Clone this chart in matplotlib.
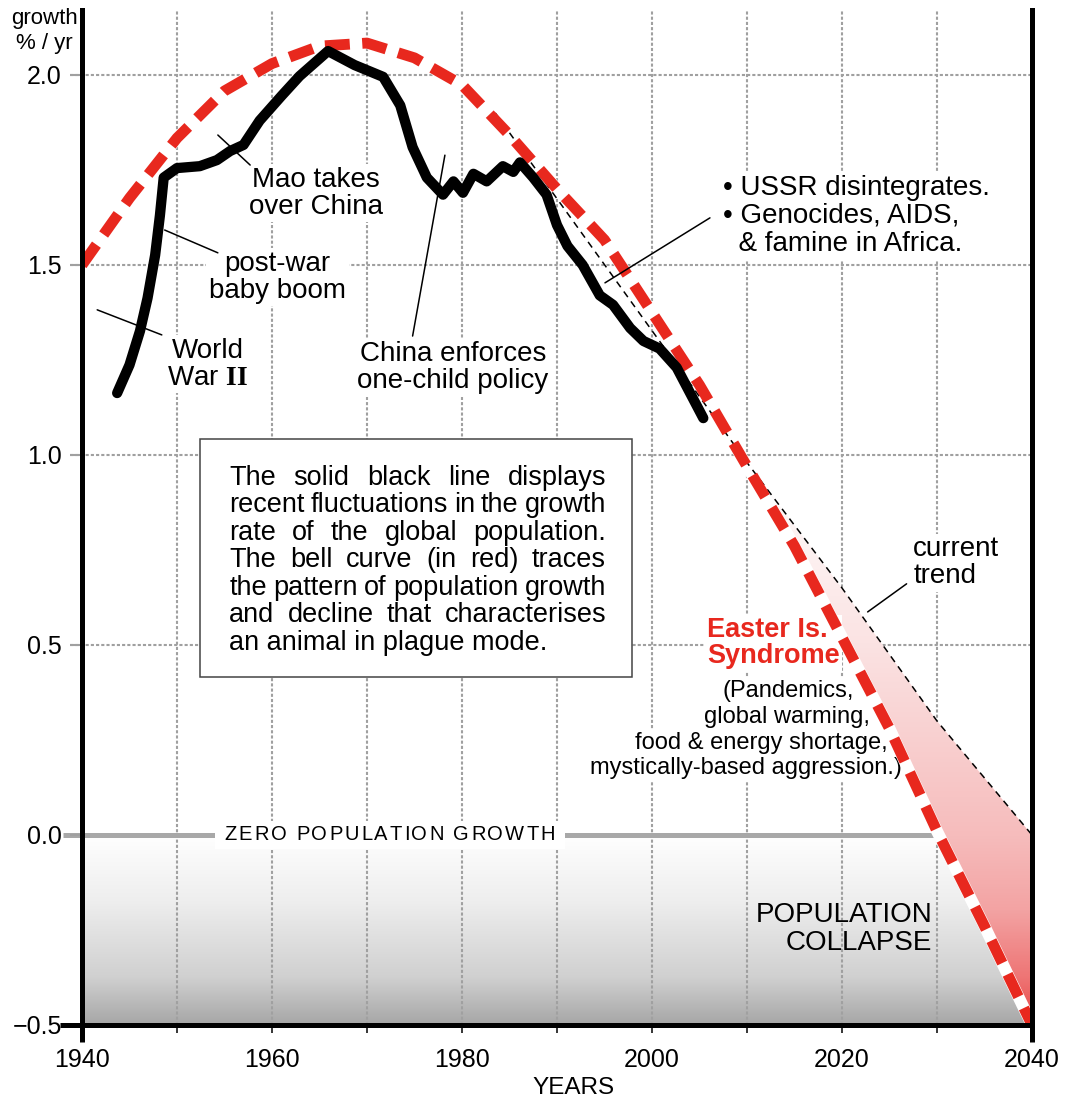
import numpy as np
import matplotlib.pyplot as plt
from matplotlib.colors import LinearSegmentedColormap
from matplotlib.patches import Rectangle, Polygon

plt.rcParams['font.family'] = ['Liberation Sans', 'DejaVu Sans']
plt.rcParams['mathtext.fontset'] = 'custom'
plt.rcParams['mathtext.rm'] = 'Liberation Serif'
plt.rcParams['mathtext.bf'] = 'Liberation Serif:bold'

# world population growth rate (% / yr)
pop_years = [1943.7, 1945.0, 1946.1, 1946.9, 1947.7, 1948.2, 1948.6, 1950.0, 1952.4,
             1954.2, 1955.6, 1957.0, 1958.7, 1961.0, 1962.9, 1965.9, 1968.7, 1971.7,
             1973.5, 1974.8, 1976.3, 1978.0, 1979.1, 1980.1, 1981.2, 1982.6, 1984.3,
             1985.4, 1986.1, 1987.5, 1988.9, 1990.0, 1991.1, 1992.7, 1994.5, 1995.9,
             1997.7, 1999.1, 2000.8, 2002.6, 2005.4]
pop_growth = [1.163, 1.237, 1.326, 1.413, 1.526, 1.63, 1.73, 1.755, 1.76,
              1.776, 1.80, 1.816, 1.88, 1.945, 1.997, 2.063, 2.026, 1.995,
              1.92, 1.81, 1.73, 1.685, 1.72, 1.69, 1.74, 1.72, 1.76,
              1.745, 1.77, 1.73, 1.685, 1.605, 1.55, 1.50, 1.42, 1.395,
              1.334, 1.30, 1.28, 1.23, 1.097]

# bell curve (plague mode)
bell_years = [1940, 1945, 1950, 1955, 1960, 1965, 1970, 1975, 1980, 1985, 1990,
              1995, 2000, 2005, 2010, 2015, 2020, 2025, 2030, 2035, 2040]
bell_growth = [1.50, 1.676, 1.834, 1.958, 2.03, 2.076, 2.084, 2.045, 1.974, 1.842, 1.70,
               1.566, 1.375, 1.184, 0.97, 0.76, 0.52, 0.28, 0.01, -0.24, -0.50]

# current trend
trend_years = [1983.5, 2010, 2020, 2030, 2040]
trend_growth = [1.90, 0.98, 0.65, 0.30, 0.0]

year_ticks = [1940, 1960, 1980, 2000, 2020, 2040]
decade_ticks = [1950, 1970, 1990, 2010, 2030]
grid_years = [1950, 1960, 1970, 1980, 1990, 2000, 2010, 2020, 2030]
growth_ticks = [-0.5, 0.0, 0.5, 1.0, 1.5, 2.0]

box_lines = ['The solid black line displays',
             'recent fluctuations in the growth',
             'rate of the global population.',
             'The bell curve (in red) traces',
             'the pattern of population growth',
             'and decline that characterises',
             'an animal in plague mode.']

RED = '#e8281e'
GRID = '#a0a0a0'
BOX_FS = 19.5

W, H = 1066, 1099
fig = plt.figure(figsize=(W / 100, H / 100), dpi=100)
ax = fig.add_axes([82 / W, 74 / H, 950 / W, 1015 / H])

# grey "collapse" zone
grey = LinearSegmentedColormap.from_list('grey', [(0, '#ffffff'), (0.35, '#eeeeee'),
                                                  (0.75, '#d0d0d0'), (1, '#a6a6a6')])
ax.imshow(np.linspace(0, 1, 256)[:, None], cmap=grey, extent=(1940, 2040, -0.5, 0),
          aspect='auto', zorder=0)

# grid
ax.vlines(grid_years, -0.5, 2.171, color=GRID, lw=1.5, linestyles=[(0, (1.5, 1))], zorder=1)
ax.hlines(growth_ticks[2:], 1938.7, 2040, color=GRID, lw=1.5, linestyles=[(0, (1.5, 1))],
          zorder=1, clip_on=False)
ax.hlines(0, 1938.0, 2040, color='#a8a8a8', lw=3.6, zorder=1.5, clip_on=False)

# pink wedge between bell curve and trend
verts = [(x, y) for x, y in zip(bell_years, bell_growth) if x >= 2005]
verts += [(x, y) for x, y in zip(trend_years, trend_growth) if x >= 2005][::-1]
wedge = Polygon(verts, closed=True, transform=ax.transData)
pink = LinearSegmentedColormap.from_list('pink', [(0, '#ffffff'), (0.33, '#fbe3e3'),
                                                  (0.67, '#f6bcbc'), (0.8, '#f3a3a3'),
                                                  (0.92, '#ee7474'), (1, '#e84444')])
im = ax.imshow(np.linspace(0, 1, 256)[:, None], cmap=pink, extent=(2004, 2040, -0.5, 1.0),
               aspect='auto', zorder=2)
im.set_clip_path(wedge)

# curves
ax.plot(bell_years, bell_growth, color='white', lw=8.6, zorder=4)
ax.plot(trend_years, trend_growth, color='black', lw=1.1, ls=(0, (4.5, 3.5)), zorder=4.5)
ax.plot(bell_years, bell_growth, color=RED, lw=7.8, ls=(0, (2.3, 1.15)),
        dash_capstyle='butt', zorder=5)
ax.plot(pop_years, pop_growth, color='black', lw=7.4, solid_capstyle='round',
        solid_joinstyle='round', zorder=6)

ax.set_xlim(1940, 2040)
ax.set_ylim(-0.5, 2.171)

# axes styling
for side in ['left', 'right', 'bottom']:
    ax.spines[side].set_linewidth(3.6)
    ax.spines[side].set_zorder(10)
ax.spines['top'].set_visible(False)
ax.plot([1940, 1940], [-0.5, -0.545], color='black', lw=3.6, clip_on=False, zorder=10,
        solid_capstyle='butt')
ax.plot([2040, 2040], [-0.5, -0.545], color='black', lw=3.6, clip_on=False, zorder=10,
        solid_capstyle='butt')
ax.plot([1937.7, 1940], [-0.5, -0.5], color='black', lw=3.6, clip_on=False, zorder=10,
        solid_capstyle='butt')

ax.set_xticks(year_ticks)
ax.set_xticks(decade_ticks, minor=True)
ax.set_yticks(growth_ticks)
ax.set_yticklabels([f'{g:.1f}'.replace('-', '\u2212') for g in growth_ticks])
ax.tick_params(axis='x', which='both', direction='out', length=5.8, width=1.1,
               pad=11, labelsize=18)
ax.tick_params(axis='y', direction='out', length=8.6, width=1.5, color=GRID,
               pad=5.8, labelsize=18)

fig.text(44 / W, 1 - 31 / H, 'growth\n% / yr', fontsize=16, ha='center', va='center',
         linespacing=1.2)
fig.text(573 / W, 1 - 1088 / H, 'YEARS', fontsize=17.5, ha='center', va='center')

# labels
wbox = dict(facecolor='white', edgecolor='none', boxstyle='square,pad=0.1')
lbl = dict(fontsize=20, ha='center', va='center', linespacing=1.05, zorder=3, bbox=wbox)
ax.text(1964.6, 1.689, 'Mao takes\nover China', **lbl)
ax.text(1960.6, 1.468, 'post-war\nbaby boom', **lbl)
ax.text(1953.2, 1.239, 'World\nWar $\\mathbf{II}$', **lbl)
ax.text(1979.05, 1.229, 'China enforces\none-child policy', **lbl)
ax.text(2007.47, 1.629, '\u2022 USSR disintegrates.\n\u2022 Genocides, AIDS,\n  & famine in Africa.',
        fontsize=20, ha='left', va='center', linespacing=1.1, zorder=3, bbox=wbox)
ax.text(2027.5, 0.716, 'current\ntrend', fontsize=20, ha='left', va='center',
        linespacing=1.05, zorder=3, bbox=wbox)
ax.text(2005.8, 0.504, 'Easter Is.\nSyndrome', fontsize=19.5, fontweight='bold', color=RED,
        ha='left', ma='left', va='center', linespacing=1.0, zorder=3, bbox=wbox)
for txt, x, y in [('(Pandemics,', 2014.3, 0.379), ('global warming,', 2014.2, 0.311),
                  ('food & energy shortage,', 2011.5, 0.242),
                  ('mystically-based aggression.)', 2009.9, 0.176)]:
    ax.text(x, y, txt, fontsize=17, ha='center', va='center', zorder=3, bbox=wbox)
ax.text(2029.5, -0.247, 'POPULATION\nCOLLAPSE', fontsize=20, ha='right', ma='right',
        va='center', linespacing=1.1, zorder=3)

# leader lines
leaders = [((1954.3, 1.842), (1957.7, 1.763)),
           ((1948.7, 1.592), (1954.3, 1.532)),
           ((1941.6, 1.382), (1948.4, 1.316)),
           ((1978.2, 1.789), (1974.8, 1.313)),
           ((2006.1, 1.624), (1995.05, 1.453)),
           ((2026.8, 0.661), (2022.7, 0.587))]
for a, b in leaders:
    ax.annotate('', xy=b, xytext=a, zorder=7,
                arrowprops=dict(arrowstyle='-', lw=1.1, color='black', shrinkA=0, shrinkB=0))

# explanatory box
ax.add_patch(Rectangle((1952.4, 0.416), 45.5, 0.626, facecolor='white', edgecolor='#444444',
                       lw=1.1, zorder=3))

fig.canvas.draw()
rend = fig.canvas.get_renderer()


def width_px(s, **kw):
    t = ax.text(0, 0, s, **kw)
    w = t.get_window_extent(rend).width
    t.remove()
    return w


inv = ax.transData.inverted()
left = ax.transData.transform((1955.5, 0))[0]
right = ax.transData.transform((1995.16, 0))[0]
for i, line in enumerate(box_lines):
    y = 0.922 - i * 0.0724
    if i == len(box_lines) - 1:
        ax.text(1955.5, y, line, fontsize=BOX_FS, va='baseline', zorder=4)
        continue
    words = line.split()
    ws = [width_px(w, fontsize=BOX_FS) for w in words]
    gap = (right - left - sum(ws)) / (len(words) - 1)
    x = left
    for w, ww in zip(words, ws):
        ax.text(inv.transform((x, 0))[0], y, w, fontsize=BOX_FS, va='baseline', zorder=4)
        x += ww + gap

# letter-spaced "ZERO POPULATION GROWTH"
ax.add_patch(Rectangle((1954.0, -0.037), 36.8, 0.074, facecolor='white', edgecolor='none',
                       zorder=2.5))
zero_txt = 'ZERO POPULATION GROWTH'
sp = width_px('a a', fontsize=14.5) - 2 * width_px('a', fontsize=14.5)
cw = [width_px(c, fontsize=14.5) if c != ' ' else sp for c in zero_txt]
extra = 2.0
total = sum(cw) + extra * (len(zero_txt) - 1)
x = ax.transData.transform((1972.4, 0))[0] - total / 2
for c, w in zip(zero_txt, cw):
    if c != ' ':
        ax.text(inv.transform((x, 0))[0], 0, c, fontsize=14.5, va='center', zorder=3)
    x += w + extra

fig.savefig('out.png', dpi=100)
